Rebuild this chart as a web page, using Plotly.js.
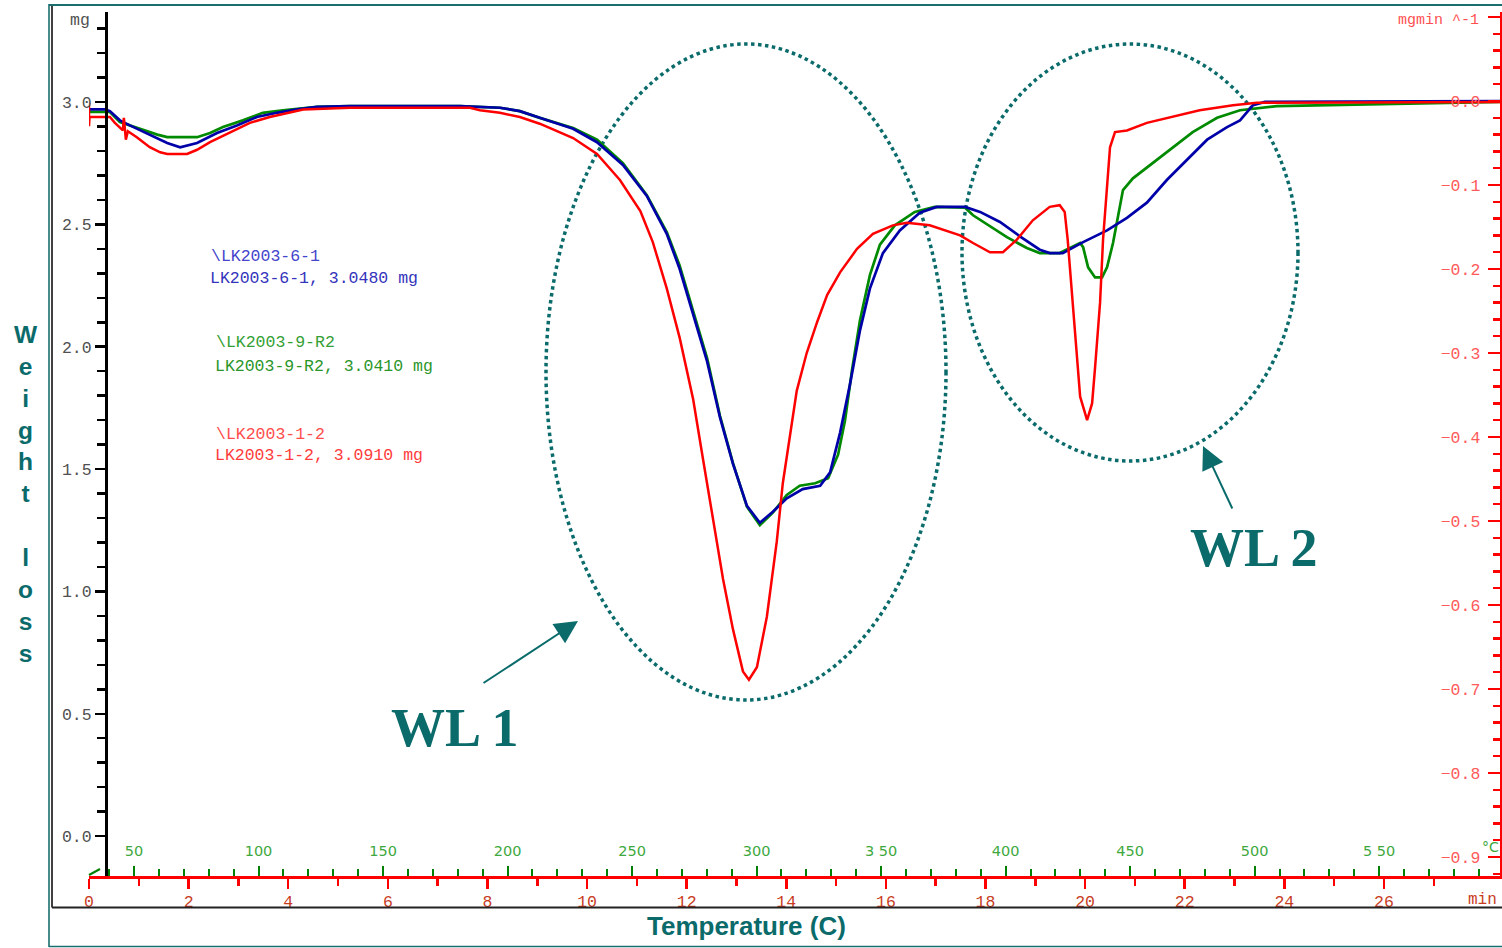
<!DOCTYPE html>
<html>
<head>
<meta charset="utf-8">
<script src="https://cdn.plot.ly/plotly-3.0.1.min.js"></script>
<style>
  html, body { margin: 0; padding: 0; background: #ffffff; }
  #chart { width: 1502px; height: 948px; }
</style>
</head>
<body>
<div id="chart"></div>
<script>
// Time (min) and derivative weight signal (mg/min) for each sample run
const blueTime = [0.02,0.32,0.42,0.62,0.82,1.22,1.57,1.83,2.17,2.57,2.97,3.37,3.77,4.18,4.58,5.24,7.45,8.25,8.65,9.05,9.72,10.20,10.72,11.20,11.60,11.86,12.13,12.41,12.67,12.93,13.21,13.47,13.73,14.01,14.33,14.68,14.88,15.08,15.28,15.48,15.68,15.94,16.28,16.68,17.02,17.59,17.89,18.29,18.69,19.09,19.29,19.55,19.96,20.44,20.84,21.24,21.64,22.04,22.45,22.85,23.11,23.37,23.61,28.33];
const blueRate = [-0.010,-0.010,-0.012,-0.023,-0.029,-0.040,-0.050,-0.055,-0.050,-0.038,-0.029,-0.019,-0.014,-0.010,-0.007,-0.006,-0.006,-0.008,-0.012,-0.020,-0.033,-0.049,-0.076,-0.113,-0.158,-0.200,-0.255,-0.310,-0.377,-0.432,-0.482,-0.502,-0.489,-0.473,-0.462,-0.458,-0.442,-0.395,-0.337,-0.273,-0.223,-0.181,-0.154,-0.133,-0.126,-0.126,-0.132,-0.144,-0.161,-0.177,-0.181,-0.181,-0.168,-0.154,-0.139,-0.121,-0.094,-0.070,-0.046,-0.031,-0.023,-0.005,-0.001,0.000];

const greenTime = [0.02,0.42,0.62,0.96,1.37,1.57,2.17,2.43,2.69,3.09,3.49,3.89,4.58,5.24,7.45,8.25,8.65,9.05,9.72,10.20,10.72,11.20,11.60,11.86,12.13,12.41,12.67,12.93,13.21,13.47,13.73,14.01,14.27,14.58,14.84,15.04,15.18,15.32,15.48,15.68,15.88,16.18,16.58,16.98,17.59,17.75,18.43,18.83,19.09,19.49,19.90,19.96,20.06,20.20,20.34,20.44,20.56,20.66,20.76,20.96,21.36,21.76,22.16,22.65,23.11,23.85,28.33];
const greenRate = [-0.013,-0.013,-0.025,-0.032,-0.040,-0.043,-0.043,-0.038,-0.031,-0.023,-0.014,-0.011,-0.007,-0.006,-0.006,-0.008,-0.012,-0.020,-0.032,-0.046,-0.074,-0.112,-0.156,-0.196,-0.251,-0.306,-0.375,-0.431,-0.483,-0.505,-0.490,-0.469,-0.458,-0.455,-0.449,-0.421,-0.380,-0.320,-0.261,-0.207,-0.171,-0.148,-0.132,-0.126,-0.127,-0.136,-0.162,-0.175,-0.181,-0.181,-0.169,-0.174,-0.198,-0.210,-0.210,-0.198,-0.169,-0.138,-0.106,-0.092,-0.074,-0.055,-0.037,-0.020,-0.011,-0.006,-0.001];

const redTime = [0.00,0.00,0.01,0.42,0.52,0.68,0.70,0.74,0.78,0.96,1.22,1.43,1.57,1.97,2.17,2.43,2.83,3.23,3.63,4.04,4.30,5.24,7.65,7.85,8.25,8.65,9.05,9.72,10.20,10.66,11.07,11.32,11.60,11.86,12.13,12.33,12.53,12.73,12.93,13.13,13.25,13.41,13.61,13.81,13.93,14.07,14.21,14.41,14.62,14.82,15.08,15.42,15.74,16.14,16.42,16.88,17.49,17.75,18.09,18.35,18.63,18.95,19.29,19.49,19.59,19.65,19.73,19.80,19.84,19.90,20.04,20.14,20.20,20.30,20.36,20.44,20.50,20.60,20.84,21.24,21.76,22.30,22.97,23.45,28.33];
const redRate = [-0.002,-0.030,-0.019,-0.019,-0.026,-0.035,-0.020,-0.046,-0.036,-0.043,-0.055,-0.061,-0.063,-0.063,-0.058,-0.049,-0.037,-0.026,-0.019,-0.014,-0.010,-0.008,-0.008,-0.011,-0.014,-0.019,-0.027,-0.044,-0.063,-0.094,-0.131,-0.168,-0.223,-0.282,-0.355,-0.427,-0.500,-0.569,-0.629,-0.679,-0.689,-0.674,-0.614,-0.524,-0.455,-0.400,-0.345,-0.300,-0.263,-0.231,-0.204,-0.176,-0.158,-0.148,-0.145,-0.148,-0.160,-0.169,-0.180,-0.180,-0.165,-0.142,-0.126,-0.124,-0.132,-0.165,-0.225,-0.273,-0.312,-0.352,-0.380,-0.360,-0.317,-0.240,-0.165,-0.106,-0.055,-0.037,-0.035,-0.026,-0.019,-0.011,-0.005,-0.002,-0.001];

// Sample labels
const sampleFiles  = ['\\LK2003-6-1', '\\LK2003-9-R2', '\\LK2003-1-2'];
const sampleLabels = ['LK2003-6-1, 3.0480 mg', 'LK2003-9-R2, 3.0410 mg', 'LK2003-1-2, 3.0910 mg'];

// Tick labels
const timeTickVals = [0,2,4,6,8,10,12,14,16,18,20,22,24,26,28];
const timeTickText = ['0','2','4','6','8','10','12','14','16','18','20','22','24','26',''];
const timeUnit = 'min';
const tempTickVals = [50,100,150,200,250,300,350,400,450,500,550];
const tempTickText = ['50','100','150','200','250','300','3 50','400','450','500','5 50'];
const rateTickVals = [-0.9,-0.8,-0.7,-0.6,-0.5,-0.4,-0.3,-0.2,-0.1,0.0,0.1];
const rateTickText = ['\u22120.9','\u22120.8','\u22120.7','\u22120.6','\u22120.5','\u22120.4','\u22120.3','\u22120.2','\u22120.1','0.0',''];

// Scales
const TIME_MAX = 28.33;          // right end of the time axis, min
const TEMP_START = 31.93;        // furnace temperature at t = 0, °C
const HEAT_RATE = 20;            // °C per minute

// Page geometry helpers (pixel -> paper fraction)
const W = 1502, H = 948, ML = 89, MR = 2, MT = 12, MB = 72;
const PW = W - ML - MR, PH = H - MT - MB;
const px = x => (x - ML) / PW;
const py = y => (H - MB - y) / PH;

const MONO = 'Courier New, Liberation Mono, monospace';
const SANS = 'Liberation Sans, Arial, sans-serif';
const TEAL = '#0b6b6b';

const blue = '#0000a8', green = '#008a00', red = '#ff0000';

const traces = [
  // carriers for the mass axis and the temperature axis (not visible)
  { x: blueTime, y: blueRate, xaxis: 'x', yaxis: 'y', mode: 'lines',
    opacity: 0, line: { width: 0 }, hoverinfo: 'skip' },
  { x: blueTime.map(t => TEMP_START + HEAT_RATE * t), y: blueRate, xaxis: 'x2', yaxis: 'y',
    mode: 'lines', opacity: 0, line: { width: 0 }, hoverinfo: 'skip' },
  // derivative curves
  { x: greenTime, y: greenRate, xaxis: 'x', yaxis: 'y2', mode: 'lines',
    line: { color: green, width: 2.7 }, hoverinfo: 'skip' },
  { x: blueTime, y: blueRate, xaxis: 'x', yaxis: 'y2', mode: 'lines',
    line: { color: blue, width: 2.7 }, hoverinfo: 'skip' },
  { x: redTime, y: redRate, xaxis: 'x', yaxis: 'y2', mode: 'lines',
    line: { color: red, width: 2.5 }, hoverinfo: 'skip' }
];

const textColors = [['#4444cc', '#3333bb'], ['#33a033', '#2a962a'], ['#ff4d4d', '#ff3b3b']];
const textRows = [[256, 278], [342, 366], [434, 456]];
const textLeft = [209, 214, 214];

function label(x, y, text, font, xanchor) {
  return { xref: 'paper', yref: 'paper', x: px(x), y: py(y), xanchor: xanchor || 'center',
           yanchor: 'middle', showarrow: false, text: text, font: font };
}

const annotations = [];
sampleFiles.forEach((f, i) => {
  annotations.push(label(textLeft[i], textRows[i][0], f,
    { family: MONO, size: 16.5, color: textColors[i][0] }, 'left'));
  annotations.push(label(textLeft[i] - 1, textRows[i][1], sampleLabels[i],
    { family: MONO, size: 16.5, color: textColors[i][1] }, 'left'));
});

const WL_FONT = { family: 'Liberation Serif, Times New Roman, serif', size: 54, color: TEAL, weight: 700 };
annotations.push(
  label(455, 728, 'WL 1', WL_FONT),
  label(1254, 548, 'WL 2', WL_FONT),
  { xref: 'paper', yref: 'paper', x: px(578), y: py(621), ax: -96, ay: 63, text: '',
    showarrow: true, arrowhead: 2, arrowsize: 2.3, arrowwidth: 2, arrowcolor: TEAL },
  { xref: 'paper', yref: 'paper', x: px(1203), y: py(446), ax: 30, ay: 64, text: '',
    showarrow: true, arrowhead: 2, arrowsize: 2.3, arrowwidth: 2, arrowcolor: TEAL }
);

// axis captions
annotations.push(
  label(746, 926, 'Temperature (C)', { family: SANS, size: 26, color: TEAL, weight: 700 }),
  label(26, 494, 'W<br>e<br>i<br>g<br>h<br>t<br> <br>l<br>o<br>s<br>s',
        { family: SANS, size: 24.5, color: TEAL, weight: 700 }),
  label(92, 21, 'mg', { family: MONO, size: 16.5, color: '#505050' }, 'right'),
  label(1481, 21, 'mgmin ^-1', { family: MONO, size: 15, color: '#ff5050' }, 'right'),
  label(1466, 900, timeUnit, { family: MONO, size: 16, color: '#c83c1e' }, 'left'),
  label(1480, 847, '\u00b0C', { family: 'DejaVu Sans, sans-serif', size: 14, color: '#3ea83e' }, 'left')
);

const shapes = [
  // dotted rings around the two weight-loss regions
  { type: 'circle', xref: 'paper', yref: 'paper', x0: px(546), x1: px(946), y0: py(700), y1: py(44),
    line: { color: TEAL, width: 3.5, dash: 'dot' }, layer: 'below' },
  { type: 'circle', xref: 'paper', yref: 'paper', x0: px(962), x1: px(1298), y0: py(461), y1: py(44),
    line: { color: TEAL, width: 3.5, dash: 'dot' }, layer: 'below' },
  // outer frame
  { type: 'line', xref: 'paper', yref: 'paper', x0: px(49), x1: px(49), y0: py(4), y1: py(947),
    line: { color: '#1a6e6e', width: 1.6 } },
  { type: 'line', xref: 'paper', yref: 'paper', x0: px(49), x1: px(1502), y0: py(5), y1: py(5),
    line: { color: '#1a6e6e', width: 1.8 } },
  { type: 'line', xref: 'paper', yref: 'paper', x0: px(49), x1: px(1502), y0: py(946.5), y1: py(946.5),
    line: { color: '#1a6e6e', width: 1.6 } },
  { type: 'line', xref: 'paper', yref: 'paper', x0: px(52), x1: px(52), y0: py(6), y1: py(907.5),
    line: { color: '#111111', width: 1.6 } },
  { type: 'line', xref: 'paper', yref: 'paper', x0: px(52), x1: px(1502), y0: py(907.5), y1: py(907.5),
    line: { color: '#222222', width: 2 } },
  // temperature axis corner mark
  { type: 'line', xref: 'paper', yref: 'paper', x0: px(89), x1: px(100), y0: py(875), y1: py(869),
    line: { color: '#008000', width: 2 } }
];

const layout = {
  width: W, height: H,
  margin: { l: ML, r: MR, t: MT, b: MB, pad: 0 },
  paper_bgcolor: '#ffffff', plot_bgcolor: '#ffffff',
  showlegend: false,
  xaxis: {
    range: [0, TIME_MAX], anchor: 'y', automargin: false, fixedrange: true,
    tickmode: 'array', tickvals: timeTickVals, ticktext: timeTickText,
    ticks: 'outside', ticklen: 10, tickwidth: 2.5, tickcolor: red,
    ticklabeloverflow: 'allow', ticklabelstandoff: -2,
    showline: true, linecolor: red, linewidth: 3, showgrid: false, zeroline: false,
    tickfont: { family: MONO, size: 16.5, color: '#c83c1e' },
    minor: { tickmode: 'linear', tick0: 0, dtick: 1, ticks: 'outside', ticklen: 7,
             tickwidth: 2.5, tickcolor: red, showgrid: false }
  },
  xaxis2: {
    overlaying: 'x', anchor: 'y', side: 'bottom', automargin: false, fixedrange: true,
    range: [TEMP_START, TEMP_START + HEAT_RATE * TIME_MAX],
    tickmode: 'array', tickvals: tempTickVals, ticktext: tempTickText,
    ticks: 'inside', ticklen: 10, tickwidth: 2, tickcolor: '#008000',
    ticklabelposition: 'inside', ticklabelstandoff: 7,
    showline: false, showgrid: false, zeroline: false,
    tickfont: { family: 'DejaVu Sans, sans-serif', size: 14.5, color: '#3ea83e' },
    minor: { tickmode: 'linear', tick0: 0, dtick: 10, ticks: 'inside', ticklen: 7,
             tickwidth: 2, tickcolor: '#008000', showgrid: false }
  },
  yaxis: {
    range: [-0.163, 3.368], anchor: 'free', position: px(106), side: 'left',
    automargin: false, fixedrange: true,
    tickmode: 'linear', tick0: 0, dtick: 0.5, tickformat: '.1f',
    ticks: 'outside', ticklen: 10, tickwidth: 2.5, tickcolor: '#000000',
    showline: true, linecolor: '#000000', linewidth: 2.5, showgrid: false, zeroline: false,
    tickfont: { family: MONO, size: 16.5, color: '#505050' },
    minor: { tickmode: 'linear', tick0: 0, dtick: 0.1, ticks: 'outside', ticklen: 8,
             tickwidth: 2.5, tickcolor: '#000000', showgrid: false }
  },
  yaxis2: {
    overlaying: 'y', side: 'right', anchor: 'x', automargin: false, fixedrange: true,
    range: [-0.9226, 0.106],
    tickmode: 'array', tickvals: rateTickVals, ticktext: rateTickText,
    ticks: 'inside', ticklen: 12, tickwidth: 2.5, tickcolor: red,
    ticklabelposition: 'inside', ticklabelstandoff: 8,
    showline: true, linecolor: red, linewidth: 3, showgrid: false, zeroline: false,
    tickfont: { family: MONO, size: 16.5, color: '#ff5a5a' },
    minor: { tickmode: 'linear', tick0: 0, dtick: 0.02, ticks: 'inside', ticklen: 7,
             tickwidth: 2.5, tickcolor: red, showgrid: false }
  },
  annotations: annotations,
  shapes: shapes
};

Plotly.newPlot('chart', traces, layout, { displayModeBar: false, staticPlot: true });
</script>
</body>
</html>
